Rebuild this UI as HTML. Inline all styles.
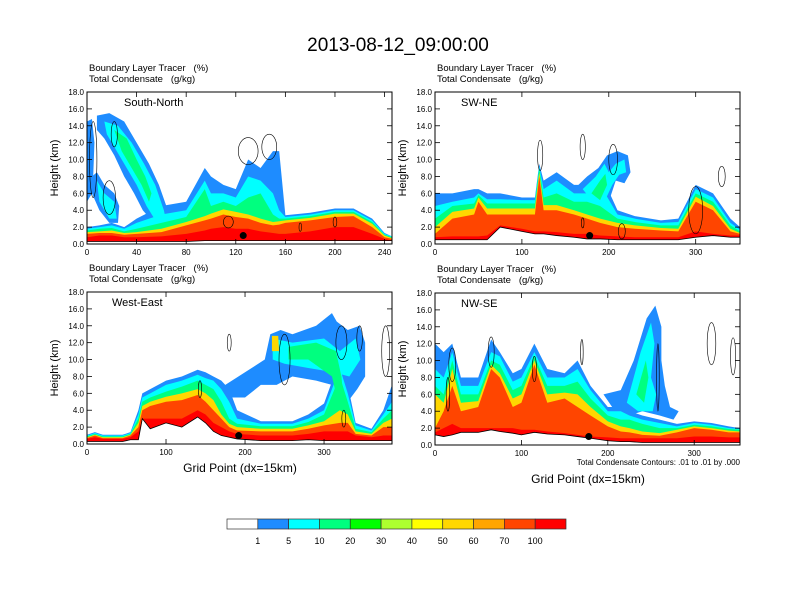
<!DOCTYPE html>
<html><head><meta charset="utf-8"><style>
body{margin:0;background:#fff;}
svg{display:block;font-family:"Liberation Sans",Arial,sans-serif;}
text{white-space:pre;}
</style></head><body>
<svg id="fig" width="792" height="612" viewBox="0 0 792 612">
<rect width="792" height="612" fill="#fff"/>
<text x="398" y="51" font-size="19" text-anchor="middle">2013-08-12_09:00:00</text>
</svg>
<script>
const svg=document.getElementById('fig');
const NS='http://www.w3.org/2000/svg';
const fills=['#1e8cff','#00ffff','#00ff7f','#ffd700','#ff4500','#ff0000'];
const cbColors=['#ffffff','#1e8cff','#00ffff','#00ff7f','#00ff00','#adff2f','#ffff00','#ffd700','#ffa500','#ff4500','#ff0000'];
const cbLabels=['1','5','10','20','30','40','50','60','70','100'];
const yTicks=[0,2,4,6,8,10,12,14,16,18];

// Panel 1: South-North
const snX=[0,10,20,30,40,60,80,95,100,110,120,130,140,150,155,160,180,200,215,230,240,246];
const snTerrain=[0.3,0.3,0.3,0.3,0.3,0.3,0.3,0.4,0.4,0.4,0.4,0.4,0.4,0.4,0.4,0.4,0.4,0.4,0.4,0.4,0.4,0.4];
const snRed=[0.8,1.0,1.0,0.8,0.8,0.9,1.2,1.6,1.8,2.0,1.8,1.8,1.5,1.3,1.2,1.2,1.5,2.0,2.0,1.2,0.6,0.4];
const snOrange=[1.2,1.3,1.3,1.1,1.2,1.4,2.2,2.8,3.0,3.5,3.2,3.0,2.5,2.2,2.3,2.5,2.8,3.2,3.3,2.0,0.8,0.6];
const snGold=[1.4,1.5,1.6,1.3,1.4,1.8,2.6,3.3,3.6,4.1,3.8,3.5,3.0,2.6,2.7,2.8,3.1,3.6,3.6,2.4,1.0,0.7];
const snGreen=[1.6,1.8,1.9,1.5,1.8,2.5,3.2,6.5,4.5,5.0,4.5,5.5,6.0,3.5,3.0,3.0,3.3,3.8,3.8,2.6,1.1,0.8];
const snCyan=[1.8,2.0,2.2,1.8,2.5,3.5,4.0,7.5,6.0,6.0,5.5,8.0,7.5,6.0,4.0,3.2,3.5,4.0,4.0,2.8,1.2,0.9];
const snBlue=[2.0,2.2,2.5,2.0,3.0,4.5,5.0,9.0,8.0,7.0,6.5,10.0,9.0,11.0,11.0,3.4,3.7,4.2,4.2,3.0,1.3,0.9];
// feature polygons: level index, then point list [grid, km]
const snPolyLevel=[0,1,2,0,0,1];
const snPolys=[
 [[8,15.2],[18,15.5],[30,14.5],[40,12],[50,9.5],[58,7],[64,4.5],[68,2.5],[55,2.3],[45,4],[38,6],[30,8],[22,10.5],[14,12.5],[8,13.5]],
 [[14,14.5],[25,14],[36,12],[46,9.5],[55,7],[62,4],[64,2.6],[56,2.6],[48,4.5],[40,7],[32,9],[24,11],[16,13]],
 [[22,13.5],[32,12.5],[40,10],[47,8],[52,6],[50,5],[44,7],[36,9],[28,11]],
 [[0,14.5],[4,14.8],[6,12],[5,8],[4,6],[0,5]],
 [[4,8],[8,8.5],[14,7],[22,6],[26,4.5],[25,2.5],[18,2.5],[10,4],[4,6]],
 [[8,7.5],[14,6],[22,5],[24,3],[18,3],[10,5]]
];
const snCont=[[5,10,3,4.5],[22,13,2.5,1.5],[18,5.5,5,2],[130,11,8,1.6],[147,11.5,6,1.5],[114,2.6,4,0.7],[200,2.6,1.5,0.6],[172,2,1,0.5]];

// Panel 2: SW-NE
const swX=[0,20,45,50,60,75,100,115,120,125,140,160,175,190,210,230,260,280,300,320,340,351];
const swTerrain=[0.5,0.5,0.5,0.5,0.5,2.0,1.5,1.2,1.2,1.2,1.0,0.8,0.6,0.6,0.5,0.5,0.5,0.5,0.8,1.0,0.8,0.8];
const swRed=[0.8,0.9,0.9,0.9,1.0,2.2,1.8,1.5,1.5,1.5,1.4,1.2,1.2,1.0,0.9,0.8,0.8,0.8,1.5,1.2,1.0,1.0];
const swOrange=[1.2,3.0,3.5,5.0,3.5,3.5,3.5,3.5,8.0,4.0,4.0,3.5,3.0,2.5,2.0,1.8,1.6,1.5,5.0,4.0,1.5,1.2];
const swGold=[2.0,3.8,4.2,5.5,4.2,4.2,4.2,4.2,8.5,4.6,4.6,4.0,3.5,3.0,2.5,2.2,1.9,1.8,5.6,4.5,1.8,1.3];
const swGreen=[3.0,4.5,4.8,5.8,4.8,4.8,4.8,4.8,9.0,5.5,6.0,5.0,5.0,4.5,3.0,2.6,2.2,2.2,6.0,5.0,2.2,1.5];
const swCyan=[4.5,5.0,5.5,6.0,5.3,5.3,5.2,5.2,9.2,6.5,7.5,6.0,6.0,7.0,3.5,3.0,2.5,2.6,6.5,5.5,2.5,1.7];
const swBlue=[6.0,6.0,6.5,6.5,6.0,6.0,5.5,5.5,9.5,7.5,8.5,7.0,7.0,8.5,4.0,3.3,2.8,3.0,7.0,6.0,3.0,2.0];
const swPolyLevel=[0,1,2];
const swPolys=[
 [[160,6.5],[175,8],[188,9],[198,10.5],[210,11],[222,10.5],[225,8.5],[218,7.2],[208,7.5],[200,5],[190,4.2],[175,5]],
 [[170,6.5],[185,8],[195,9.5],[200,8.5],[208,9.5],[218,10],[220,8.5],[212,8.2],[204,7],[195,5],[180,5.2]],
 [[180,6],[190,7.5],[196,8.3],[198,7],[190,5.2]]
];
const swCont=[[121,10.5,3,1.8],[170,11.5,3,1.5],[205,10,5,1.8],[330,8,4,1.2],[300,4,8,2.8],[170,2.5,1.5,0.6],[215,1.5,4,0.9]];

// Panel 3: West-East
const weX=[0,10,20,45,55,65,70,80,100,120,140,150,160,170,180,190,220,260,280,300,320,330,340,360,375,386];
const weTerrain=[0.3,0.3,0.3,0.3,0.5,0.5,3.0,1.8,2.5,2.0,3.2,2.5,1.5,1.0,0.8,0.6,0.4,0.4,0.5,0.4,0.4,0.4,0.4,0.4,0.4,0.4];
const weRed=[0.6,0.8,0.6,0.6,0.8,1.5,3.0,3.0,3.0,3.0,4.0,3.5,2.5,2.0,1.5,1.2,1.0,1.0,1.2,1.5,1.5,1.5,1.0,0.8,1.0,1.0];
const weOrange=[0.7,1.0,0.7,0.7,1.0,2.0,4.0,4.5,5.0,5.2,5.8,5.0,4.0,3.0,2.0,1.6,1.5,1.5,1.8,2.2,2.5,2.5,1.2,1.0,2.0,2.0];
const weGold=[0.8,1.1,0.8,0.8,1.1,2.5,4.5,5.0,5.6,6.0,6.5,6.0,5.2,3.5,2.4,2.0,1.8,1.8,2.2,2.7,4.0,3.5,1.5,1.2,2.5,3.0];
const weGreen=[0.9,1.2,0.9,0.9,1.2,3.0,5.0,5.5,6.2,6.8,7.5,7.0,6.5,5.0,3.0,2.4,2.1,2.1,2.6,3.5,8.0,5.0,1.8,1.4,3.0,4.0];
const weCyan=[1.0,1.3,1.0,1.0,1.3,3.5,5.5,6.0,7.0,7.5,8.2,7.8,7.5,6.5,5.0,3.0,2.4,2.4,3.0,4.0,9.0,6.0,2.2,1.6,3.5,5.0];
const weBlue=[1.1,1.4,1.1,1.1,1.4,4.0,6.0,6.5,7.5,8.0,8.8,8.5,8.0,7.5,6.5,4.0,2.7,2.7,3.5,4.8,10.0,7.0,2.5,1.8,4.0,7.0];
const wePolyLevel=[0,1,2,3];
const wePolys=[
 [[175,7],[200,8.5],[225,10],[232,13],[245,13.5],[260,13],[290,14],[310,15.5],[316,14.5],[330,13.5],[345,14],[352,12],[352,8],[342,6.5],[330,5],[310,7],[290,7.5],[260,8],[240,7],[220,7],[200,5.5],[180,5.5]],
 [[235,12.5],[260,12],[300,12.5],[320,11],[340,12.5],[346,10],[332,8],[312,8.5],[280,9],[250,9.5],[235,10]],
 [[255,11.5],[290,12],[315,11],[322,8],[325,5],[320,4],[310,8],[280,10],[255,10]],
 [[234,12.8],[242,12.8],[243,11],[234,11]]
];
const weCont=[[180,12,2.5,1],[250,10,7,3],[322,12,7,2],[345,12.5,3.5,1.5],[378,11,5,3],[143,6.5,2,1],[325,3,2.5,1]];

// Panel 4: NW-SE
const nwX=[0,10,20,30,50,65,75,90,100,115,130,150,165,180,200,215,225,240,260,280,300,320,340,353];
const nwTerrain=[1.2,1.0,1.2,1.5,1.5,1.8,1.6,1.4,1.2,1.5,1.3,1.2,1.0,0.8,0.5,0.4,0.4,0.3,0.3,0.3,0.3,0.3,0.3,0.3];
const nwRed=[1.5,2.0,2.5,2.0,2.0,2.0,2.0,2.0,1.8,1.8,1.6,1.4,1.2,1.0,0.9,0.8,0.8,0.8,0.8,0.8,1.0,1.0,0.9,0.9];
const nwOrange=[2.0,4.0,7.0,4.0,4.5,9.0,8.0,4.5,5.0,9.5,5.0,5.5,4.5,3.5,2.2,1.6,1.5,1.2,1.1,1.5,2.0,1.8,1.5,1.5];
const nwGold=[6.0,5.0,9.0,5.0,5.2,9.5,8.5,5.5,6.0,10.0,6.0,6.2,6.0,4.5,2.8,2.2,2.0,1.6,1.4,1.8,2.2,2.0,1.7,1.6];
const nwGreen=[7.0,6.0,10.0,6.0,6.0,10.0,9.5,6.5,7.0,10.5,7.0,7.0,7.5,5.5,3.5,3.0,3.0,2.5,2.0,2.0,2.4,2.2,1.9,1.8];
const nwCyan=[9.0,8.0,11.0,7.0,7.0,11.0,10.5,7.5,8.0,11.0,8.0,8.0,9.0,6.5,4.0,4.0,3.5,3.0,2.6,2.2,2.6,2.4,2.0,1.9];
const nwBlue=[12.0,11.0,12.0,8.0,8.0,12.5,11.0,8.5,9.0,12.0,9.0,8.5,10.0,7.0,4.5,4.5,4.0,3.5,3.0,2.5,2.8,2.6,2.2,2.0];
const nwPolyLevel=[0,1,2];
const nwPolys=[
 [[195,6],[215,6.5],[230,10],[245,15],[255,16.5],[262,14],[262,10],[266,7],[272,4.5],[282,4],[276,3],[260,3.5],[240,4],[225,3.5],[205,4.5]],
 [[222,5],[238,11],[250,14.5],[254,12],[250,8],[256,6],[252,4],[235,4]],
 [[233,6],[244,10],[247,8],[242,5]]
];
const nwCont=[[20,9.5,4,2],[65,11,3.5,1.8],[170,11,1.5,1.5],[258,8,1.5,4],[320,12,5,2.5],[345,10.5,3,2.2],[115,9,2.5,1.5],[15,6,2,2]];

const panels=[
 {name:'south-north',title:'South-North',tx:37,x0:87,y0:92,xmax:246,xticks:[0,40,80,120,160,200,240],
  cols:[snX,snTerrain,snRed,snOrange,snGold,snGreen,snCyan,snBlue],polys:snPolys,plev:snPolyLevel,cont:snCont,dot:126},
 {name:'sw-ne',title:'SW-NE',tx:26,x0:435,y0:92,xmax:351,xticks:[0,100,200,300],
  cols:[swX,swTerrain,swRed,swOrange,swGold,swGreen,swCyan,swBlue],polys:swPolys,plev:swPolyLevel,cont:swCont,dot:178},
 {name:'west-east',title:'West-East',tx:25,x0:87,y0:292,xmax:386,xticks:[0,100,200,300],
  cols:[weX,weTerrain,weRed,weOrange,weGold,weGreen,weCyan,weBlue],polys:wePolys,plev:wePolyLevel,cont:weCont,dot:192},
 {name:'nw-se',title:'NW-SE',tx:26,x0:435,y0:293,xmax:353,xticks:[0,100,200,300],
  cols:[nwX,nwTerrain,nwRed,nwOrange,nwGold,nwGreen,nwCyan,nwBlue],polys:nwPolys,plev:nwPolyLevel,cont:nwCont,dot:178}
];
const W=305,H=152;
function el(tag,attrs,parent){const e=document.createElementNS(NS,tag);for(const k in attrs)e.setAttribute(k,attrs[k]);(parent||svg).appendChild(e);return e;}

panels.forEach(p=>{
  const g=el('g',{});
  
  
  const sx=v=>p.x0+v/p.xmax*W, sy=h=>p.y0+H-h/18*H;
  const clipId='clip-'+p.name;
  const cp=el('clipPath',{id:clipId},g);el('rect',{x:p.x0,y:p.y0,width:W,height:H},cp);
  const area=el('g',{'clip-path':'url(#'+clipId+')'},g);
  const xs=p.cols[0],ter=p.cols[1];
  const lvlTops=[p.cols[7],p.cols[6],p.cols[5],p.cols[4],p.cols[3],p.cols[2]];
  for(let L=0;L<6;L++){
    const top=lvlTops[L];
    let d='M'+sx(xs[0])+','+sy(ter[0]);
    xs.forEach((x,i)=>{d+=' L'+sx(x)+','+sy(top[i]);});
    for(let i=xs.length-1;i>=0;i--)d+=' L'+sx(xs[i])+','+sy(ter[i]);
    const pa=el('path',{d:d+'Z',fill:fills[L]},area);
    
    
    p.polys.forEach((poly,k)=>{
      if(p.plev[k]!==L)return;
      const pts=poly.map(q=>sx(q[0])+','+sy(q[1])).join(' ');
      const e=el('polygon',{points:pts,fill:fills[L]},area);
      
      
    });
  }
  let td='M'+sx(xs[0])+','+sy(0);
  xs.forEach((x,i)=>{td+=' L'+sx(x)+','+sy(ter[i]);});
  td+=' L'+sx(xs[xs.length-1])+','+sy(0)+'Z';
  const tp=el('path',{d:td,fill:'#fff',stroke:'#000','stroke-width':0.8},area);
  
  
  p.cont.forEach(c=>{
    const e=el('ellipse',{cx:sx(c[0]),cy:sy(c[1]),rx:c[2]/p.xmax*W,ry:c[3]/18*H,fill:'none',stroke:'#000','stroke-width':0.6},area);
    
    
  });
  const dot=el('circle',{cx:sx(p.dot),cy:sy(1.0),r:3.5,fill:'#000'},area);
  
  
  const fr=el('rect',{x:p.x0,y:p.y0,width:W,height:H,fill:'none',stroke:'#000','stroke-width':1},g);
  
  
  yTicks.forEach(t=>{
    const y=sy(t);
    el('line',{x1:p.x0,x2:p.x0+5,y1:y,y2:y,stroke:'#000','stroke-width':0.8},g);
    el('line',{x1:p.x0+W,x2:p.x0+W-5,y1:y,y2:y,stroke:'#000','stroke-width':0.8},g);
    const tx=el('text',{x:p.x0-3,y:y+3,'font-size':8,'text-anchor':'end'},g);
    tx.textContent=t.toFixed(1);
    
    
  });
  p.xticks.forEach(t=>{
    const x=sx(t);
    el('line',{x1:x,x2:x,y1:p.y0+H,y2:p.y0+H-5,stroke:'#000','stroke-width':0.8},g);
    el('line',{x1:x,x2:x,y1:p.y0,y2:p.y0+5,stroke:'#000','stroke-width':0.8},g);
    const tx=el('text',{x:x,y:p.y0+H+11,'font-size':8,'text-anchor':'middle'},g);
    tx.textContent=t;
    
    
  });
  const t1=el('text',{x:p.x0+2,y:p.y0-21,'font-size':9.5},g);t1.textContent='Boundary Layer Tracer   (%)';
  
  const t2=el('text',{x:p.x0+2,y:p.y0-10,'font-size':9.5},g);t2.textContent='Total Condensate   (g/kg)';
  
  const t3=el('text',{x:p.x0+p.tx,y:p.y0+14,'font-size':11},g);t3.textContent=p.title;
  
  const yl=el('text',{x:0,y:0,'font-size':11,'text-anchor':'middle',transform:'translate('+(p.x0-29)+','+(p.y0+H/2)+') rotate(-90)'},g);
  yl.textContent='Height (km)';
  
});
let xt=el('text',{x:240,y:472,'font-size':12,'text-anchor':'middle'});xt.textContent='Grid Point (dx=15km)';

xt=el('text',{x:588,y:483,'font-size':12,'text-anchor':'middle'});xt.textContent='Grid Point (dx=15km)';

xt=el('text',{x:740,y:465,'font-size':8,'text-anchor':'end'});xt.textContent='Total Condensate Contours: .01 to .01 by .000';

const cbx=227,cbw=(566-227)/cbColors.length;
cbColors.forEach((c,i)=>{
  const r=el('rect',{x:cbx+i*cbw,y:519,width:cbw,height:10,fill:c,stroke:'#333','stroke-width':0.7});
  
  
});
cbLabels.forEach((l,i)=>{
  const t=el('text',{x:cbx+(i+1)*cbw,y:544,'font-size':9,'text-anchor':'middle'});t.textContent=l;
  
  
});
</script>
</body></html>
